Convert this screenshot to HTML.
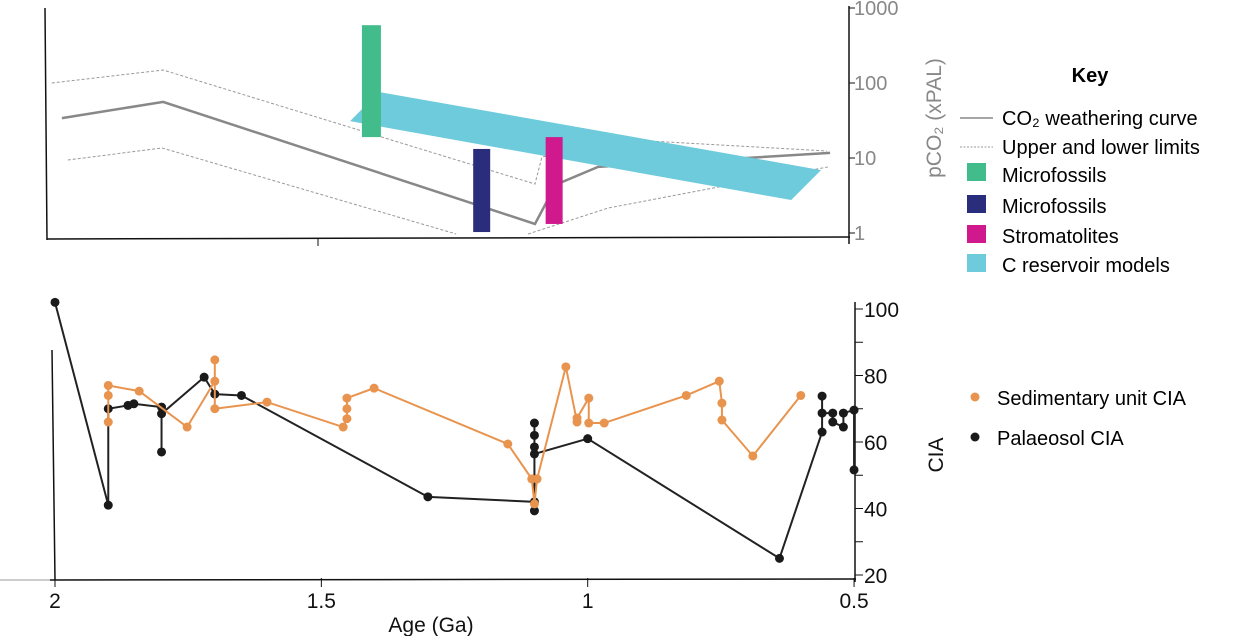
<!DOCTYPE html>
<html><head><meta charset="utf-8"><style>
body{margin:0;background:#fff;width:1240px;height:636px;overflow:hidden;font-family:"Liberation Sans",Arial,sans-serif}
svg text{font-family:"Liberation Sans",Arial,sans-serif}
</style></head><body>
<svg id="c" width="1240" height="636" viewBox="0 0 1240 636">
<g id="topPanel"></g>
<g id="botPanel"></g>
<g font-size="20">
<text x="1090" y="82" font-weight="bold" text-anchor="middle">Key</text>
<line x1="960" y1="118" x2="993" y2="118" stroke="#888" stroke-width="1.5"/>
<text x="1002" y="125">CO₂ weathering curve</text>
<line x1="960" y1="147" x2="993" y2="147" stroke="#999" stroke-width="1" stroke-dasharray="2,1.5"/>
<text x="1002" y="154">Upper and lower limits</text>
<rect x="967" y="163" width="19" height="18" fill="#43bc8b"/>
<text x="1002" y="182">Microfossils</text>
<rect x="967" y="195" width="19" height="18" fill="#2a2d7b"/>
<text x="1002" y="213">Microfossils</text>
<rect x="967" y="225" width="19" height="18" fill="#d0198c"/>
<text x="1002" y="243">Stromatolites</text>
<rect x="967" y="254" width="19" height="18" fill="#6ecbdb"/>
<text x="1002" y="272">C reservoir models</text>
<circle cx="975" cy="397" r="4.5" fill="#e8944f"/>
<text x="997" y="405">Sedimentary unit CIA</text>
<circle cx="975" cy="437" r="4.5" fill="#1a1a1a"/>
<text x="997" y="445">Palaeosol CIA</text>
</g>
</svg>
<script>
// ---- data ----
const curveAge=[1.987,1.797,1.099,1.06,0.981,0.545];
const curveVal=[34,56,1.32,4.4,7.6,11.7];
const upperAge=[2.006,1.797,1.099,1.086,0.919,0.551];
const upperVal=[100,149,4.5,10.3,17.4,12.4];
const lowerAgeA=[1.976,1.799,1.247];
const lowerValA=[9.4,13.6,0.97];
const lowerAgeB=[1.112,0.962,0.755,0.549];
const lowerValB=[0.97,2.15,4.1,7.6];
const barNames=['microfossils-green-bar','microfossils-navy-bar','stromatolites-bar'];
const barAge=[1.406,1.199,1.063];
const barLow=[19,1.03,1.32];
const barHigh=[590,13.2,19];
const barColor=['#43bc8b','#2a2d7b','#d0198c'];
const cresAge=[1.446,1.392,0.562,0.618];
const cresVal=[31,76,6.9,2.75];
const logTicks=[1,10,100,1000];

const palAge=[2,1.9,1.9,1.863,1.852,1.8,1.8,1.8,1.72,1.70,1.65,1.30,1.10,1.10,1.10,1.10,1.10,1.10,1.0,0.64,0.56,0.56,0.56,0.54,0.54,0.52,0.52,0.50,0.50];
const palCIA=[102,41,70,71,71.5,70.5,57,68.5,79.5,74.4,74,43.5,42,39.3,65.7,62,58.5,56.4,61,25,63,73.8,68.7,68.7,66,64.5,68.7,69.6,51.6];
const sedAge=[1.9,1.9,1.9,1.842,1.752,1.70,1.70,1.70,1.602,1.459,1.452,1.452,1.452,1.401,1.15,1.105,1.10,1.095,1.041,1.02,1.02,0.998,0.998,0.969,0.815,0.753,0.748,0.748,0.69,0.60];
const sedCIA=[66,74,77,75.3,64.5,78.3,84.7,70,72,64.5,67,70,73.2,76.2,59.4,48.9,41.4,48.9,82.6,66,67.2,73.2,65.7,65.7,74,78.3,71.7,66.6,55.8,74];
const ciaTicks=[20,40,60,80,100];
const ciaMinor=[30,50,70,90];
const ageTicks=[2,1.5,1,0.5];
const ageTickLabels=['2','1.5','1','0.5'];

// ---- scales ----
const X=a=>55+(2-a)*532.7;
const YL=v=>233-75*Math.log10(v);
const YC=v=>575-(v-20)*3.325;
const NS='http://www.w3.org/2000/svg';
function mk(p,t,at){const e=document.createElementNS(NS,t);for(const k in at)e.setAttribute(k,at[k]);p.appendChild(e);return e;}
const topG=document.getElementById('topPanel'),botG=document.getElementById('botPanel');

let e;
e=mk(topG,'line',{x1:45,y1:8,x2:47,y2:240,stroke:'#111','stroke-width':1.5});


e=mk(topG,'line',{x1:47,y1:239,x2:850,y2:237,stroke:'#111','stroke-width':1.5});


e=mk(topG,'line',{x1:318,y1:239,x2:318,y2:246,stroke:'#111','stroke-width':1});


e=mk(topG,'line',{x1:849,y1:6,x2:849,y2:244,stroke:'#111','stroke-width':1.5});


logTicks.forEach(v=>{
 const y=YL(v);
 e=mk(topG,'line',{x1:849,y1:y,x2:855,y2:y,stroke:'#111','stroke-width':1});
 
 
 e=mk(topG,'text',{x:854,y:y+7,fill:'#888','font-size':20});e.textContent=String(v);
 
 
});
e=mk(topG,'text',{x:0,y:0,fill:'#888','font-size':21,'text-anchor':'middle',transform:'translate(941,118) rotate(-90)'});
e.textContent='pCO₂ (xPAL)';



function pts(ax,vs,fx,fy){return ax.map((a,i)=>fx(a)+','+fy(vs[i])).join(' ');}
e=mk(topG,'polyline',{points:pts(upperAge,upperVal,X,YL),fill:'none',stroke:'#999','stroke-width':1,'stroke-dasharray':'3,2'});


e=mk(topG,'polyline',{points:pts(lowerAgeA,lowerValA,X,YL),fill:'none',stroke:'#999','stroke-width':1,'stroke-dasharray':'3,2'});


e=mk(topG,'polyline',{points:pts(lowerAgeB,lowerValB,X,YL),fill:'none',stroke:'#999','stroke-width':1,'stroke-dasharray':'3,2'});


e=mk(topG,'polyline',{points:pts(curveAge,curveVal,X,YL),fill:'none',stroke:'#888','stroke-width':2.5});


e=mk(topG,'polygon',{points:pts(cresAge,cresVal,X,YL),fill:'#6ecbdb'});


barAge.forEach((a,i)=>{
 const w=(i==0?19:17);
 e=mk(topG,'rect',{x:X(a)-w/2,y:YL(barHigh[i]),width:w,height:YL(barLow[i])-YL(barHigh[i]),fill:barColor[i]});
 
 
});

e=mk(botG,'line',{x1:0,y1:580,x2:50,y2:580,stroke:'#bbb','stroke-width':1.5});


e=mk(botG,'line',{x1:50,y1:580,x2:856,y2:579,stroke:'#111','stroke-width':1.5});


e=mk(botG,'line',{x1:52,y1:350,x2:55,y2:580,stroke:'#111','stroke-width':1.5});


e=mk(botG,'line',{x1:855,y1:302,x2:855,y2:582,stroke:'#111','stroke-width':1.5});


ciaTicks.forEach(v=>{
 const y=YC(v);
 e=mk(botG,'line',{x1:855,y1:y,x2:863,y2:y,stroke:'#111','stroke-width':1});
 
 
 e=mk(botG,'text',{x:864,y:y+8,fill:'#111','font-size':21});e.textContent=String(v);
 
 
});
ciaMinor.forEach(v=>{
 const y=YC(v);
 e=mk(botG,'line',{x1:855,y1:y,x2:863,y2:y,stroke:'#111','stroke-width':1});
 
 
});
e=mk(botG,'text',{x:0,y:0,fill:'#111','font-size':21,'text-anchor':'middle',transform:'translate(943,455) rotate(-90)'});
e.textContent='CIA';


ageTicks.forEach((a,i)=>{
 const x=X(a);
 e=mk(botG,'line',{x1:x,y1:578,x2:x,y2:587,stroke:'#111','stroke-width':1});
 
 
 e=mk(botG,'text',{x:x,y:608,fill:'#111','font-size':21,'text-anchor':'middle'});e.textContent=ageTickLabels[i];
 
 
});
e=mk(botG,'text',{x:431,y:632,fill:'#111','font-size':21,'text-anchor':'middle'});e.textContent='Age (Ga)';



e=mk(botG,'polyline',{points:pts(palAge,palCIA,X,YC),fill:'none',stroke:'#222','stroke-width':2});


palAge.forEach((a,i)=>{
 e=mk(botG,'circle',{cx:X(a),cy:YC(palCIA[i]),r:4.5,fill:'#1a1a1a'});
 
 
});
e=mk(botG,'polyline',{points:pts(sedAge,sedCIA,X,YC),fill:'none',stroke:'#e8944f','stroke-width':2});


sedAge.forEach((a,i)=>{
 e=mk(botG,'circle',{cx:X(a),cy:YC(sedCIA[i]),r:4.5,fill:'#e8944f'});
 
 
});
</script>
</body></html>
